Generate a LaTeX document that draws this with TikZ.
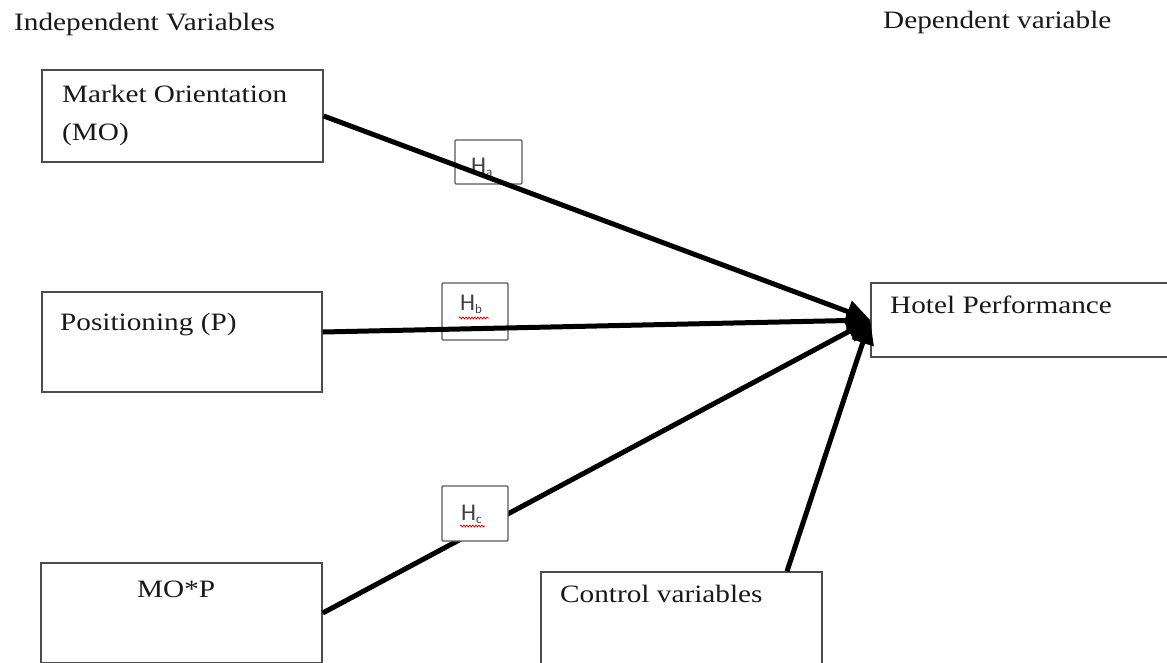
\documentclass[tikz,border=0pt]{standalone}
\usepackage{fontspec}
\setmainfont[FakeStretch=1.17]{Liberation Serif}
\newfontfamily\hfont{Carlito}
\usetikzlibrary{arrows.meta,decorations.pathmorphing}
\begin{document}
\begin{tikzpicture}[x=1pt,y=-1pt,
  box/.style={draw=black!70, line width=1.5pt, fill=white, rectangle, inner sep=0pt},
  hbox/.style={draw=black!65, line width=1.3pt, fill=white, rectangle, rounded corners=1pt, inner sep=0pt},
  lbl/.style={font=\fontsize{25}{30}\selectfont, text=black!90, inner sep=0pt, anchor=base west},
  hlbl/.style={font=\hfont\fontsize{24}{28}\selectfont, text=black!75, inner sep=0pt, anchor=base west},
  link/.style={line width=5pt, -{Triangle[length=24pt,width=22pt]}},
  squig/.style={draw=red!80!black, line width=0.7pt, decorate, decoration={snake, amplitude=1pt, segment length=3pt}}]
\useasboundingbox (0,0) rectangle (1167,662);
\fill[white] (0,0) rectangle (1167,662);

% headers
\node[lbl] (indep) at (14,30) {Independent Variables};
\node[lbl] (dep) at (883,28) {Dependent variable};

% main boxes
\node[box, minimum width=281pt, minimum height=92pt] (mo) at (182.5,116) {};
\node[box, minimum width=280pt, minimum height=100pt] (p) at (182,342) {};
\node[box, minimum width=281pt, minimum height=100pt] (mop) at (181.5,613) {};
\node[box, minimum width=300pt, minimum height=74pt] (hp) at (1021,320) {};
\node[box, minimum width=281pt, minimum height=100pt] (cv) at (681.5,622) {};

\node[lbl] (mot1) at (62,102) {Market Orientation};
\node[lbl] (mot2) at (62,140) {(MO)};
\node[lbl] (pt) at (60,330) {Positioning (P)};
\node[lbl] (mopt) at (137,597) {MO*P};
\node[lbl] (hpt) at (890,313) {Hotel Performance};
\node[lbl] (cvt) at (560,602) {Control variables};

% hypothesis boxes under the lines
\node[hbox, minimum width=67pt, minimum height=44pt] (ha) at (488.5,162) {};
\node[hbox, minimum width=66pt, minimum height=57pt] (hb) at (475,311.5) {};

\node[hlbl] (hat) at (471,173) {H{\fontsize{13}{13}\selectfont\raisebox{-3pt}{a}}};
\node[hlbl] (hbt) at (460,310) {H{\fontsize{13}{13}\selectfont\raisebox{-3pt}{b}}};
\draw[squig] (459,318) -- (489,318);

% connectors
\coordinate (pout) at ([yshift=10pt]p.east);
\coordinate (cvout) at ([xshift=105.5pt]cv.north);
\draw[link] (mo.east) -- (hp.west);
\draw[link] (pout) -- (hp.west);
\draw[link] (mop.east) -- (hp.west);
\draw[link] (cvout) -- (hp.west);

% hypothesis box over the MO*P line
\node[hbox, minimum width=66pt, minimum height=55pt] (hc) at (475,513.5) {};
\node[hlbl] (hct) at (461,520) {H{\fontsize{13}{13}\selectfont\raisebox{-3pt}{c}}};
\draw[squig] (460,526) -- (485,526);
\end{tikzpicture}
\end{document}
